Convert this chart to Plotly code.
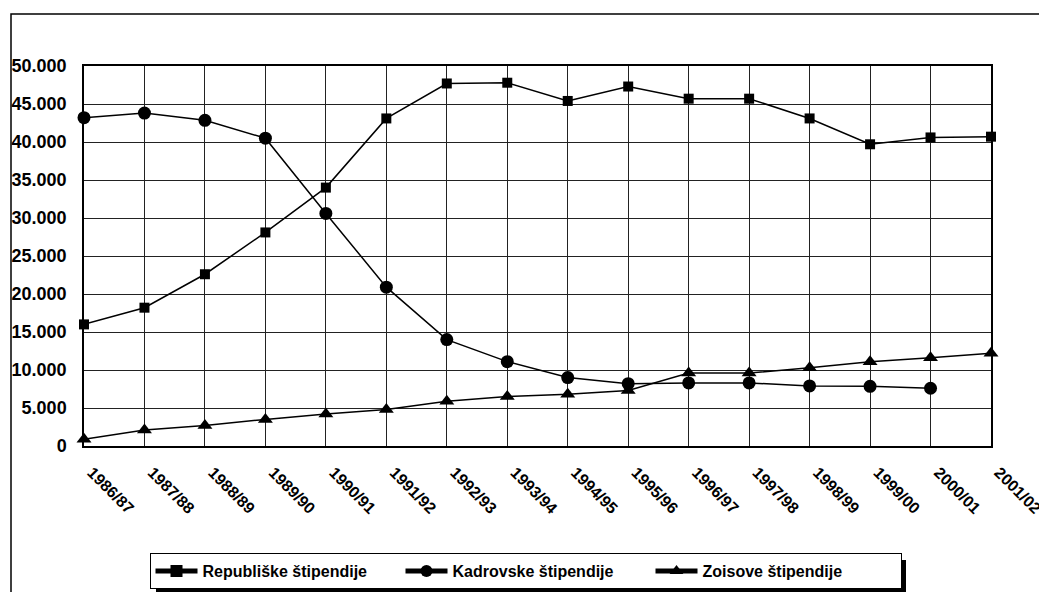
import plotly.graph_objects as go

categories = ["1986/87", "1987/88", "1988/89", "1989/90", "1990/91", "1991/92",
              "1992/93", "1993/94", "1994/95", "1995/96", "1996/97", "1997/98",
              "1998/99", "1999/00", "2000/01", "2001/02"]
republiske = [16000, 18200, 22600, 28100, 34000, 43100, 47700, 47800, 45400, 47300,
              45700, 45700, 43100, 39700, 40600, 40700]
kadrovske = [43200, 43800, 42850, 40500, 30600, 20900, 14000, 11100, 9000, 8200,
             8300, 8300, 7900, 7850, 7600, None]
zoisove = [900, 2100, 2700, 3500, 4200, 4800, 5900, 6500, 6800, 7300,
           9600, 9600, 10300, 11100, 11600, 12200]
series_names = ["Republiške štipendije", "Kadrovske štipendije", "Zoisove štipendije"]

W, H = 1039, 592
L, R, T, B = 84, 991, 66, 446
pw, ph = R - L, B - T

def px(x):
    return (x - L) / pw

def py(y):
    return (B - y) / ph

fig = go.Figure()
for name, vals, sym, size in [
    (series_names[0], republiske, "square", 10),
    (series_names[1], kadrovske, "circle", 13),
    (series_names[2], zoisove, "triangle-up", 13),
]:
    fig.add_trace(go.Scatter(
        x=categories, y=vals, name=name, mode="lines+markers",
        line=dict(color="black", width=1.5),
        marker=dict(symbol=sym, size=size, color="black"),
        cliponaxis=False,
    ))

# outer frame
fig.add_shape(type="rect", xref="paper", yref="paper",
              x0=px(11), x1=px(1045), y0=py(600), y1=py(14),
              line=dict(color="black", width=1.5), layer="below")
# legend shadow
fig.add_shape(type="rect", xref="paper", yref="paper",
              x0=px(156), x1=px(906), y0=py(596), y1=py(560),
              line=dict(width=0), fillcolor="black", layer="above")

fig.update_layout(
    width=W, height=H,
    margin=dict(l=L, r=W - R, t=T, b=H - B),
    paper_bgcolor="white", plot_bgcolor="white",
    separators=",.",
    font=dict(family="Arial, Liberation Sans, sans-serif", color="black"),
    showlegend=True,
    legend=dict(
        orientation="h", xref="container", yref="container",
        x=(153 + 898) / 2 / W, xanchor="center",
        y=3 / H, yanchor="bottom",
        bgcolor="white", bordercolor="black", borderwidth=1,
        font=dict(size=16, family="Arial, Liberation Sans, sans-serif", weight="bold"),
        itemsizing="constant", itemwidth=42, entrywidth=193,
    ),
    xaxis=dict(
        type="category", range=[0, 15], automargin=False,
        showgrid=True, gridcolor="#222", gridwidth=1,
        showline=True, linecolor="black", linewidth=2, mirror=True,
        ticks="", tickangle=45, ticklabelstandoff=9, ticklabelshift=8,
        tickfont=dict(size=16, weight="bold"),
        zeroline=False,
    ),
    yaxis=dict(
        range=[0, 50000], dtick=5000, tickformat=",d", automargin=False,
        showgrid=True, gridcolor="#222", gridwidth=1,
        showline=True, linecolor="black", linewidth=1.5, mirror=True,
        ticks="", ticklabelstandoff=12,
        tickfont=dict(size=18, weight="bold"),
        zeroline=False,
    ),
)

fig.write_html("out.html", config={"displayModeBar": False},
               post_script="document.body.style.margin='0';")
